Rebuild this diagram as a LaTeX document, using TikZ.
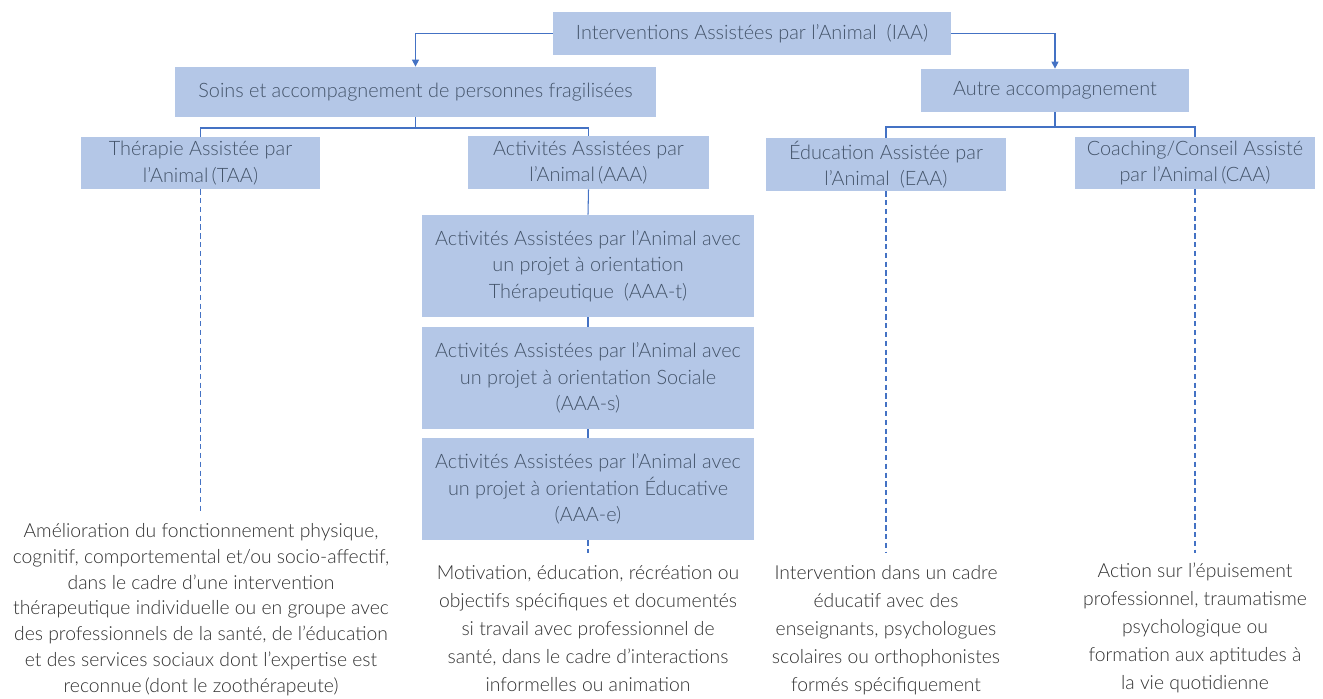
\documentclass[tikz,border=0pt]{standalone}
\usepackage{fontspec}
\setmainfont{Lato}[UprightFont=* Light]
\usetikzlibrary{arrows.meta}
\definecolor{boxfill}{HTML}{B4C7E7}
\definecolor{boxtext}{HTML}{44546A}
\definecolor{linkblue}{HTML}{4472C4}
\definecolor{desctext}{HTML}{303030}
\tikzset{box/.style = {fill=boxfill, text=boxtext, align=center, inner sep=0pt,
                       font=\fontsize{11.3}{15}\selectfont},
         link/.style = {draw=linkblue, line width=0.6pt},
         arrowlink/.style = {link, -{Triangle[length=4pt, width=4pt]}},
         dashlink/.style = {link, dash pattern=on 3pt off 2pt},
         desc/.style = {text=desctext, align=center, anchor=north, inner sep=0pt,
                        font=\fontsize{11}{14.7}\selectfont},
         widedesc/.style = {desc, font=\fontsize{11}{15.9}\selectfont}}

\begin{document}
\begin{tikzpicture}
      \useasboundingbox (0, 0) rectangle (26.46, -13.98);

      \node [box, minimum width=7.96cm, minimum height=0.86cm] (iaa) at (15.04, -0.67)
        {Interventions Assistées par l’Animal\enspace(IAA)};
      \node [box, minimum width=9.62cm, minimum height=1cm] (soins) at (8.31, -1.84)
        {Soins et accompagnement de personnes fragilisées};
      \node [box, minimum width=5.36cm, minimum height=0.86cm] (autre) at (21.1, -1.81)
        {Autre accompagnement};

      \node [box, minimum width=4.78cm, minimum height=1.04cm] (taa) at (4.01, -3.26)
        {Thérapie Assistée par\\l’Animal\,(TAA)};
      \node [box, minimum width=4.82cm, minimum height=1.06cm] (aaa) at (11.77, -3.25)
        {Activités Assistées par\\l’Animal\,(AAA)};
      \node [box, minimum width=4.8cm, minimum height=1.06cm] (eaa) at (17.72, -3.29)
        {Éducation Assistée par\\l’Animal\enspace(EAA)};
      \node [box, minimum width=4.8cm, minimum height=1.04cm] (caa) at (23.9, -3.26)
        {Coaching/Conseil Assisté\\par l’Animal\,(CAA)};

      \node [box, minimum width=6.64cm, minimum height=2.04cm] (aaat) at (11.76, -5.32)
        {Activités Assistées par l’Animal avec\\un projet à orientation\\Thérapeutique\enspace(AAA-t)};
      \node [box, minimum width=6.64cm, minimum height=2.04cm] (aaas) at (11.76, -7.56)
        {Activités Assistées par l’Animal avec\\un projet à orientation Sociale\\(AAA-s)};
      \node [box, minimum width=6.64cm, minimum height=2.04cm] (aaae) at (11.76, -9.78)
        {Activités Assistées par l’Animal avec\\un projet à orientation Éducative\\(AAA-e)};

      \node [desc] (taatext) at (4.02, -10.46)
        {Amélioration du fonctionnement physique,\\cognitif, comportemental et/ou socio-affectif,\\dans le cadre d’une intervention\\thérapeutique individuelle ou en groupe avec\\des professionnels de la santé, de l’éducation\\et des services sociaux dont l’expertise est\\reconnue\,(dont le zoothérapeute)};
      \node [widedesc] (aaatext) at (11.76, -11.3)
        {Motivation, éducation, récréation ou\\objectifs spécifiques et documentés\\si travail avec professionnel de\\santé, dans le cadre d’interactions\\informelles ou animation};
      \node [widedesc] (eaatext) at (17.72, -11.3)
        {Intervention dans un cadre\\éducatif avec des\\enseignants, psychologues\\scolaires ou orthophonistes\\formés spécifiquement};
      \node [widedesc] (caatext) at (23.9, -11.26)
        {Action sur l’épuisement\\professionnel, traumatisme\\psychologique ou\\formation aux aptitudes à\\la vie quotidienne};

      \coordinate (soinsfork) at (8.31, -2.56);
      \coordinate (autrefork) at (21.1, -2.54);
      \coordinate (taaend) at (4.01, -10.24);
      \coordinate (aaaend) at (11.76, -11.06);
      \coordinate (eaaend) at (17.72, -11.06);
      \coordinate (caaend) at (23.9, -11.06);

      \draw [arrowlink] (iaa.west) -| (soins.north);
      \draw [arrowlink] (iaa.east) -| (autre.north);

      \draw [link] (soins.south) -- (soinsfork) -| (taa.north);
      \draw [link] (soinsfork) -| (aaa.north);
      \draw [link] (autre.south) -- (autrefork) -| (eaa.north);
      \draw [link] (autrefork) -| (caa.north);

      \draw [link] (aaa.south) -- (aaat.north);
      \draw [link] (aaat.south) -- (aaas.north);
      \draw [link] (aaas.south) -- (aaae.north);

      \draw [dashlink] (taa.south) -- (taaend);
      \draw [dashlink] (aaae.south) -- (aaaend);
      \draw [dashlink] (eaa.south) -- (eaaend);
      \draw [dashlink] (caa.south) -- (caaend);
    \end{tikzpicture}
\end{document}
